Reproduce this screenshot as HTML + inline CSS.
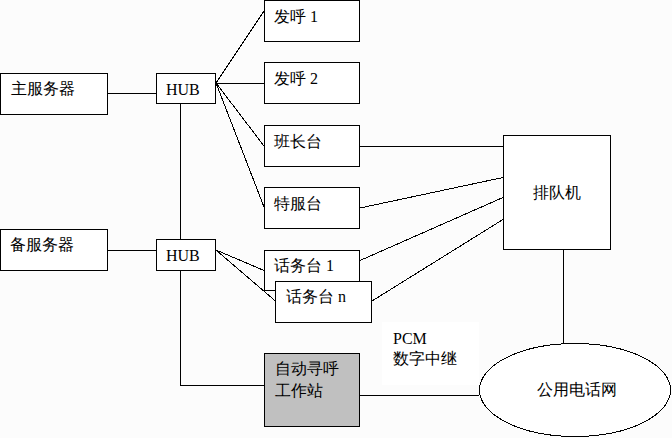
<!DOCTYPE html>
<html><head><meta charset="utf-8">
<style>
html,body{margin:0;padding:0;}
body{width:672px;height:438px;background:#fcfcfc;position:relative;overflow:hidden;font-family:"Liberation Serif",serif;font-size:16px;color:#000;}
svg{position:absolute;left:0;top:0;}
.t{position:absolute;white-space:nowrap;line-height:16px;}
</style></head><body>
<svg width="672" height="438" viewBox="0 0 672 438" shape-rendering="crispEdges">
<rect x="382" y="322" width="97" height="63" fill="#ffffff"/>
<g fill="#ffffff" stroke="#000" stroke-width="1">
<rect x="0.5" y="73.5" width="107" height="41"/>
<rect x="156.5" y="73.5" width="59" height="30"/>
<rect x="264.5" y="0.5" width="95" height="41"/>
<rect x="264.5" y="62.5" width="95" height="41"/>
<rect x="264.5" y="125.5" width="95" height="41"/>
<rect x="264.5" y="187.5" width="95" height="41"/>
<rect x="0.5" y="229.5" width="107" height="41"/>
<rect x="156.5" y="239.5" width="59" height="31"/>
<rect x="264.5" y="250.5" width="95" height="40"/>
<rect x="275.5" y="281.5" width="96" height="41"/>
<rect x="264.5" y="353.5" width="95" height="73" fill="#c0c0c0"/>
<rect x="503.5" y="135.5" width="107" height="114"/>
</g>
<g stroke="#000" stroke-width="1" fill="none">
<line x1="107" y1="93.5" x2="156" y2="93.5"/>
<line x1="107" y1="250.5" x2="156" y2="250.5"/>
<line x1="180.5" y1="104" x2="180.5" y2="239"/>
<polyline points="180.5,271 180.5,385.5 264,385.5"/>
<line x1="360" y1="146.5" x2="503" y2="146.5"/>
<line x1="216" y1="83.5" x2="264" y2="83.5"/>
<line x1="563.5" y1="250" x2="563.5" y2="343"/>
<line x1="360" y1="395.5" x2="479" y2="395.5"/>
</g>
<g stroke="#000" stroke-width="1" fill="none" shape-rendering="crispEdges">
<line x1="216" y1="83" x2="264" y2="11"/>
<line x1="216" y1="83" x2="264" y2="146"/>
<line x1="216" y1="83" x2="264" y2="207"/>
<line x1="216" y1="250" x2="264" y2="270.5"/>
<line x1="216" y1="250" x2="276" y2="301.5"/>
<line x1="360" y1="208" x2="503" y2="177.5"/>
<line x1="360" y1="260.5" x2="503" y2="197.5"/>
<line x1="372" y1="301" x2="503" y2="219.5"/>
<ellipse cx="575" cy="390" rx="95.5" ry="46.5" fill="#ffffff"/>
</g>
</svg>
<div class="t" style="left:11px;top:81px">主服务器</div>
<div class="t" style="left:166px;top:82px">HUB</div>
<div class="t" style="left:274px;top:9px">发呼 1</div>
<div class="t" style="left:274px;top:71px">发呼 2</div>
<div class="t" style="left:274px;top:134px">班长台</div>
<div class="t" style="left:274px;top:196px">特服台</div>
<div class="t" style="left:10px;top:237px">备服务器</div>
<div class="t" style="left:166px;top:248px">HUB</div>
<div class="t" style="left:274px;top:258px">话务台 1</div>
<div class="t" style="left:286px;top:289px">话务台 n</div>
<div class="t" style="left:275px;top:361px">自动寻呼</div>
<div class="t" style="left:275px;top:383px">工作站</div>
<div class="t" style="left:533px;top:185px">排队机</div>
<div class="t" style="left:393px;top:331px">PCM</div>
<div class="t" style="left:393px;top:351px">数字中继</div>
<div class="t" style="left:537px;top:382px">公用电话网</div>
</body></html>
